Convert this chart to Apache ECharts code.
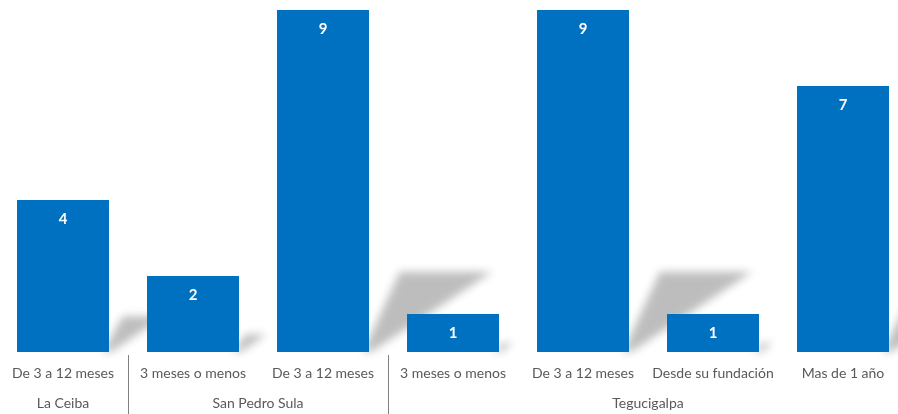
<!DOCTYPE html>
<html>
<head>
<meta charset="utf-8">
<script src="https://cdn.jsdelivr.net/npm/echarts@6/dist/echarts.min.js"></script>
<style>
  html, body { margin: 0; padding: 0; background: #ffffff; }
  #chart { width: 898px; height: 414px; }
</style>
</head>
<body>
<div id="chart"></div>
<script>
// Sub-categories (duration) along the axis, one per bar
const categories = [
  'De 3 a 12 meses',
  '3 meses o menos',
  'De 3 a 12 meses',
  '3 meses o menos',
  'De 3 a 12 meses',
  'Desde su fundación',
  'Mas de 1 año'
];

// Bar values
const values = [4, 2, 9, 1, 9, 1, 7];

// City groups: name and how many bars each spans
const groupNames = ['La Ceiba', 'San Pedro Sula', 'Tegucigalpa'];
const groupSpans = [1, 2, 4];

// Group axis runs in half-category steps from -0.5 to 6.5 (boundaryGap off),
// so slot k sits at category index (k - 1) / 2.
const halfSlots = categories.length * 2 + 1;
const groupAxisData = [];
const groupLabelAt = {};
const groupTickAt = {};
let start = 0;
groupSpans.forEach((span, g) => {
  const centerIdx = start + (span - 1) / 2;
  groupLabelAt[Math.round(centerIdx * 2 + 1)] = groupNames[g];
  const end = start + span;
  if (end < categories.length) groupTickAt[end * 2] = true;
  start = end;
});
for (let k = 0; k < halfSlots; k++) groupAxisData.push('s' + k);

const BAR_W = 92;
const BLUE = '#0070C0';
// The shadow shape is drawn far off to the left and only its blurred
// canvas shadow is offset back into place, giving soft edges.
const SHIFT = 3000;

const chart = echarts.init(document.getElementById('chart'));

// Soft perspective shadow cast up and to the right of each bar's base
function renderShadow(params, api) {
  const idx = api.value(0);
  const v = api.value(1);
  const top = api.coord([idx, v]);
  const base = api.coord([idx, 0]);
  const h = base[1] - top[1];
  const r = base[0] + BAR_W / 2 - SHIFT;
  const by = base[1];
  const ty = by - 0.235 * h;
  return {
    type: 'polygon',
    shape: {
      points: [
        [r - 6, by],
        [r + 0.09 * h, ty],
        [r + 0.36 * h, ty],
        [r + 2, by]
      ]
    },
    style: {
      fill: '#000000',
      shadowBlur: 9,
      shadowOffsetX: SHIFT,
      shadowOffsetY: 0,
      shadowColor: 'rgba(0,0,0,0.26)'
    }
  };
}

chart.setOption({
  animation: false,
  backgroundColor: '#ffffff',
  grid: {
    left: -2,
    right: -10,
    top: 10,
    bottom: 62,
    containLabel: false,
    outerBoundsMode: 'none'
  },
  xAxis: [
    {
      type: 'category',
      data: categories,
      boundaryGap: true,
      axisLine: { show: false },
      axisTick: { show: false },
      axisLabel: {
        interval: 0,
        margin: 14,
        color: '#595959',
        fontFamily: 'Lato',
        fontSize: 14
      }
    },
    {
      type: 'category',
      data: groupAxisData,
      boundaryGap: false,
      position: 'bottom',
      offset: 3,
      axisLine: { show: false },
      axisTick: {
        show: true,
        length: 62,
        interval: (i) => !!groupTickAt[i],
        lineStyle: { color: '#808080', width: 1 }
      },
      axisLabel: {
        interval: (i) => groupLabelAt[i] !== undefined,
        formatter: (val, i) => groupLabelAt[i] || '',
        margin: 41,
        color: '#595959',
        fontFamily: 'Lato',
        fontSize: 14
      }
    }
  ],
  yAxis: {
    type: 'value',
    min: 0,
    max: 9,
    show: false,
    splitLine: { show: false }
  },
  series: [
    {
      type: 'custom',
      xAxisIndex: 0,
      yAxisIndex: 0,
      renderItem: renderShadow,
      clip: false,
      data: values.map((v, i) => [i, v]),
      encode: { x: 0, y: 1 },
      z: 1,
      silent: true
    },
    {
      type: 'bar',
      xAxisIndex: 0,
      data: values,
      barWidth: BAR_W,
      z: 2,
      itemStyle: { color: BLUE },
      label: {
        show: true,
        position: 'insideTop',
        distance: 12,
        color: '#ffffff',
        fontWeight: 'bold',
        fontFamily: 'Lato',
        fontSize: 15
      }
    }
  ]
});
</script>
</body>
</html>
